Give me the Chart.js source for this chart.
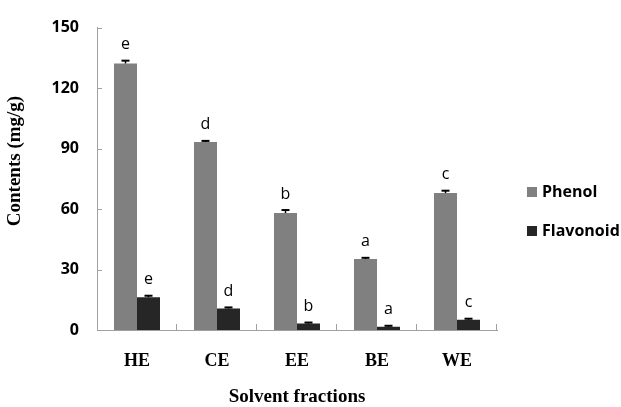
<!DOCTYPE html>
<html>
<head>
<meta charset="utf-8">
<script src="https://cdn.jsdelivr.net/npm/chart.js@4/dist/chart.umd.min.js"></script>
<style>
  html, body { margin: 0; padding: 0; background: #fff; }
  #c { display: block; }
</style>
</head>
<body>
<canvas id="c" width="621" height="407"></canvas>
<script>
// values
var categories = ['HE', 'CE', 'EE', 'BE', 'WE'];
var phenol = [132.2, 93.3, 58.0, 35.2, 67.9];
var flavonoid = [16.2, 10.7, 3.2, 1.6, 5.1];
var phenolErr = [1.4, 0.5, 1.5, 0.6, 1.2];
var flavonoidErr = [0.8, 0.5, 0.5, 0.5, 0.5];
var phenolLetters = ['e', 'd', 'b', 'a', 'c'];
var flavonoidLetters = ['e', 'd', 'b', 'a', 'c'];
var yTicks = [0, 30, 60, 90, 120, 150];

var sansFont = '"Open Sans", "Liberation Sans", sans-serif';
var serifFont = '"Liberation Serif", "DejaVu Serif", serif';
var axisGray = '#a0a0a0';

// error bars, letters, inner ticks, legend and axis titles
var extras = {
  id: 'extras',
  afterDatasetsDraw: function (chart) {
    var ctx = chart.ctx;
    var y = chart.scales.y;
    var area = chart.chartArea;
    var errs = [phenolErr, flavonoidErr];
    var letters = [phenolLetters, flavonoidLetters];

    ctx.save();
    // inner tick marks
    ctx.strokeStyle = axisGray;
    ctx.lineWidth = 1;
    yTicks.forEach(function (t) {
      var py = Math.round(y.getPixelForValue(t)) + 0.5;
      ctx.beginPath();
      ctx.moveTo(area.left, py);
      ctx.lineTo(area.left + 5, py);
      ctx.stroke();
    });
    var step = (area.right - area.left) / categories.length;
    for (var i = 1; i <= categories.length; i++) {
      var px = Math.round(area.left + i * step) - 0.5;
      ctx.beginPath();
      ctx.moveTo(px, area.bottom);
      ctx.lineTo(px, area.bottom - 6);
      ctx.stroke();
    }

    chart.data.datasets.forEach(function (ds, di) {
      var meta = chart.getDatasetMeta(di);
      meta.data.forEach(function (bar, i) {
        var v = ds.data[i];
        var top = y.getPixelForValue(v + errs[di][i]);
        var base = y.getPixelForValue(v);
        ctx.strokeStyle = '#000';
        ctx.lineWidth = 1.5;
        ctx.beginPath();
        ctx.moveTo(bar.x, base);
        ctx.lineTo(bar.x, top);
        ctx.stroke();
        ctx.lineWidth = 2;
        ctx.beginPath();
        ctx.moveTo(bar.x - 4, top);
        ctx.lineTo(bar.x + 4, top);
        ctx.stroke();

        ctx.fillStyle = '#000';
        ctx.font = '16px ' + sansFont;
        ctx.textAlign = 'center';
        ctx.textBaseline = 'middle';
        ctx.fillText(letters[di][i], bar.x, top - 16);
      });
    });

    // legend
    chart.data.datasets.forEach(function (ds, di) {
      var ly = 192 + di * 39;
      ctx.fillStyle = ds.backgroundColor;
      ctx.fillRect(527, ly - 5, 10, 10);
      ctx.fillStyle = '#000';
      ctx.font = 'bold 16px ' + sansFont;
      ctx.textAlign = 'left';
      ctx.textBaseline = 'middle';
      ctx.fillText(ds.label, 542, ly);
    });

    // axis titles
    ctx.font = 'bold 19px ' + serifFont;
    ctx.textAlign = 'center';
    ctx.textBaseline = 'middle';
    ctx.fillText('Solvent fractions', (area.left + area.right) / 2, 397);
    ctx.translate(15, 161);
    ctx.rotate(-Math.PI / 2);
    ctx.fillText('Contents (mg/g)', 0, 0);
    ctx.restore();
  }
};

new Chart(document.getElementById('c'), {
  type: 'bar',
  data: {
    labels: categories,
    datasets: [
      { label: 'Phenol', data: phenol, backgroundColor: '#808080' },
      { label: 'Flavonoid', data: flavonoid, backgroundColor: '#262626' }
    ]
  },
  options: {
    responsive: false,
    devicePixelRatio: 1,
    animation: false,
    categoryPercentage: 0.575,
    barPercentage: 1,
    layout: { padding: { top: 18, right: 124, bottom: 0, left: 0 } },
    plugins: { legend: { display: false }, tooltip: { enabled: false } },
    scales: {
      x: {
        grid: { display: false, drawTicks: false },
        border: { display: true, color: axisGray, width: 1 },
        ticks: {
          color: '#000',
          padding: 21,
          font: { family: serifFont, size: 18, weight: 'bold' }
        },
        afterFit: function (s) { s.height = 77; }
      },
      y: {
        min: 0,
        max: 150,
        grid: { display: false, drawTicks: false },
        border: { display: true, color: axisGray, width: 1 },
        ticks: {
          stepSize: 30,
          color: '#000',
          padding: 18,
          font: { family: sansFont, size: 16, weight: 'bold' }
        },
        afterFit: function (s) { s.width = 97; }
      }
    }
  },
  plugins: [extras]
});
</script>
</body>
</html>
